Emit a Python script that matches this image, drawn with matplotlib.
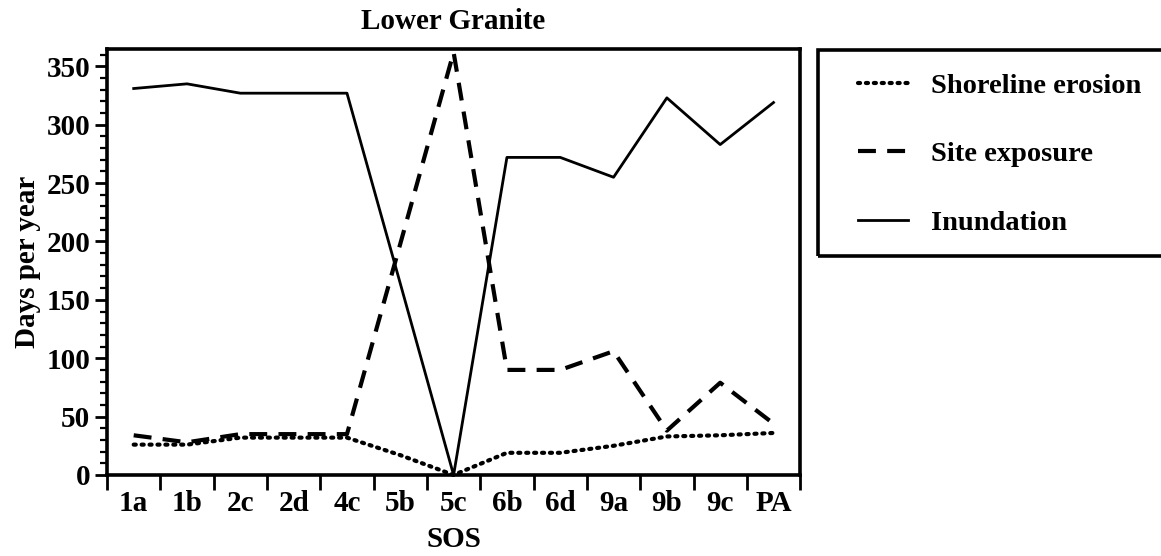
import numpy as np
import matplotlib

matplotlib.use("Agg")
import matplotlib.pyplot as plt
from matplotlib.patches import Rectangle

plt.rcParams["font.family"] = ["Liberation Serif", "DejaVu Serif"]
plt.rcParams["font.weight"] = "bold"

# values
sites = ["1a", "1b", "2c", "2d", "4c", "5b", "5c", "6b", "6d", "9a", "9b", "9c", "PA"]
shoreline_erosion = [26, 26, 32, 32, 32, 17, 0, 19, 19, 25, 33, 34, 36]
site_exposure = [34, 28, 35, 35, 35, 198, 362, 90, 90, 106, 38, 79, 44]
inundation = [331, 335, 327, 327, 327, 164, 0, 272, 272, 255, 323, 283, 319]

FS = 21
LFS = 20.5

fig = plt.figure(figsize=(11.61, 5.56), dpi=100)
ax = fig.add_axes([0.0922, 0.1457, 0.597, 0.7665])

x = np.arange(len(sites))
l1, = ax.plot(x, shoreline_erosion, color="black", lw=3.0,
              linestyle=(0, (0.5, 1.4)), dash_capstyle="round", clip_on=False)
l2, = ax.plot(x, site_exposure, color="black", lw=3.0,
              linestyle=(0, (4.3, 2.7)), clip_on=False)
l3, = ax.plot(x, inundation, color="black", lw=2.0, clip_on=False)

ax.set_xlim(-0.5, len(sites) - 0.5)
ax.set_ylim(0, 365)

# category boundaries get tick marks, category centres get labels
ax.set_xticks(np.arange(-0.5, len(sites), 1.0))
ax.set_xticklabels([])
ax.set_xticks(x, minor=True)
ax.set_xticklabels(sites, minor=True, fontsize=FS, fontweight="bold")
ax.tick_params(axis="x", which="major", direction="out", length=11, width=2)
ax.tick_params(axis="x", which="minor", length=0, pad=11)

ax.set_yticks(np.arange(0, 351, 50))
ax.set_yticks(np.arange(0, 361, 10), minor=True)
ax.set_yticklabels([str(v) for v in range(0, 351, 50)], fontsize=FS, fontweight="bold")
ax.tick_params(axis="y", which="major", direction="out", length=9, width=2, pad=3)
ax.tick_params(axis="y", which="minor", direction="out", length=5, width=1.6)

for s in ax.spines.values():
    s.set_linewidth(2.6)

ax.set_xlabel("SOS", fontsize=FS, fontweight="bold", labelpad=6)
ax.set_ylabel("Days per year", fontsize=FS, fontweight="bold", labelpad=4)
ax.set_title("Lower Granite", fontsize=FS, fontweight="bold", pad=14)

# legend box runs off the right edge of the page
fig.patches.append(Rectangle((0.7045, 0.5396), 0.33, 0.3705, transform=fig.transFigure,
                             fill=False, lw=2.6, edgecolor="black", clip_on=False))
fig.legend([l1, l2, l3], ["Shoreline erosion", "Site exposure", "Inundation"],
           loc="upper left", bbox_to_anchor=(0.717, 0.915), frameon=False,
           prop={"size": LFS, "weight": "bold"}, handlelength=1.75,
           handletextpad=0.8, labelspacing=1.5)

fig.savefig("out.png", dpi=100)
